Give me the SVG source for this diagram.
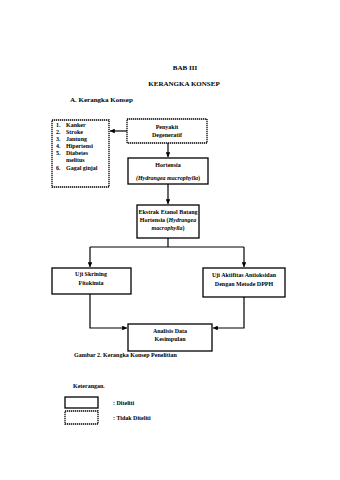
<svg xmlns="http://www.w3.org/2000/svg" width="340" height="480" viewBox="0 0 340 480">
<style>
text{font-family:"Liberation Serif","Times New Roman",serif;font-weight:bold;fill:#000}
.t{font-size:6px}
.h{font-size:7px}
.c{text-anchor:middle}
.box{fill:#fff;stroke:#000;stroke-width:1.3}
.dash{fill:#fff;stroke:#000;stroke-width:1.3;stroke-dasharray:1.3,0.7}
.ln{fill:none;stroke:#000;stroke-width:1.2}
</style>
<defs>
<marker id="ah" viewBox="0 0 10 10" refX="10" refY="5" markerWidth="4" markerHeight="4" orient="auto"><path d="M0,0 L10,5 L0,10 z" fill="#000"/></marker>
</defs>
<rect width="340" height="480" fill="#fff"/>
<text class="h c" x="185" y="70">BAB III</text>
<text class="h c" x="184" y="86">KERANGKA KONSEP</text>
<text class="h" x="70" y="102">A.  Kerangka Konsep</text>

<g id="connectors">
<path class="ln" d="M127,131 H110" marker-end="url(#ah)"/>
<path class="ln" d="M168,143 V157" marker-end="url(#ah)"/>
<path class="ln" d="M168,184 V204" marker-end="url(#ah)"/>
<path class="ln" d="M168,238 V247 M90,247 H244"/>
<path class="ln" d="M90,247 V267" marker-end="url(#ah)"/>
<path class="ln" d="M244,247 V267" marker-end="url(#ah)"/>
<path class="ln" d="M90,294 V328 H127" marker-end="url(#ah)"/>
<path class="ln" d="M244,297 V328 H213" marker-end="url(#ah)"/>
</g>

<g id="penyakit-list">
<rect class="dash" x="52" y="120" width="57" height="67"/>
<text class="t" x="56" y="127">1.</text><text class="t" x="66" y="127">Kanker</text>
<text class="t" x="56" y="134">2.</text><text class="t" x="66" y="134">Stroke</text>
<text class="t" x="56" y="141">3.</text><text class="t" x="66" y="141">Jantung</text>
<text class="t" x="56" y="148">4.</text><text class="t" x="66" y="148">Hipertensi</text>
<text class="t" x="56" y="155">5.</text><text class="t" x="66" y="155">Diabetes</text>
<text class="t" x="66" y="162">melitus</text>
<text class="t" x="56" y="170">6.</text><text class="t" x="66" y="170">Gagal ginjal</text>
</g>

<g id="penyakit">
<rect class="dash" x="127" y="119" width="80" height="24"/>
<text class="t c" x="167" y="129">Penyakit</text>
<text class="t c" x="167" y="137">Degeneratif</text>
</g>

<g id="hortensia">
<rect class="box" x="128" y="158" width="80" height="26"/>
<text class="t c" x="168" y="167">Hortensia</text>
<text class="t c" x="168" y="180"><tspan font-style="italic">(Hydrangea macrophylla</tspan>)</text>
</g>

<g id="ekstrak">
<rect class="box" x="137" y="205" width="62" height="33"/>
<text class="t c" x="168" y="214">Ekstrak Etanol Batang</text>
<text class="t c" x="168" y="222">Hortensia (<tspan font-style="italic">Hydrangea</tspan></text>
<text class="t c" x="168" y="230"><tspan font-style="italic">macrophylla</tspan>)</text>
</g>

<g id="skrining">
<rect class="box" x="52" y="268" width="79" height="26"/>
<text class="t c" x="91" y="276">Uji Skrining</text>
<text class="t c" x="91" y="285">Fitokimia</text>
</g>

<g id="aktifitas">
<rect class="box" x="203" y="268" width="82" height="29"/>
<text class="t c" x="244" y="277">Uji Aktifitas Antioksidan</text>
<text class="t c" x="244" y="286">Dengan Metode DPPH</text>
</g>

<g id="analisis">
<rect class="box" x="128" y="324" width="84" height="27"/>
<text class="t c" x="170" y="333">Analisis Data</text>
<text class="t c" x="170" y="341">Kesimpulan</text>
</g>

<text class="t" x="74" y="357">Gambar 2. Kerangka Konsep Penelitian</text>

<g id="legend">
<text class="t" x="73" y="388">Keterangan.</text>
<rect class="box" x="65" y="397" width="33" height="11"/>
<rect class="dash" x="65" y="411" width="33" height="13"/>
<text class="t" x="113" y="405">: Diteliti</text>
<text class="t" x="113" y="420">: Tidak Diteliti</text>
</g>
</svg>
